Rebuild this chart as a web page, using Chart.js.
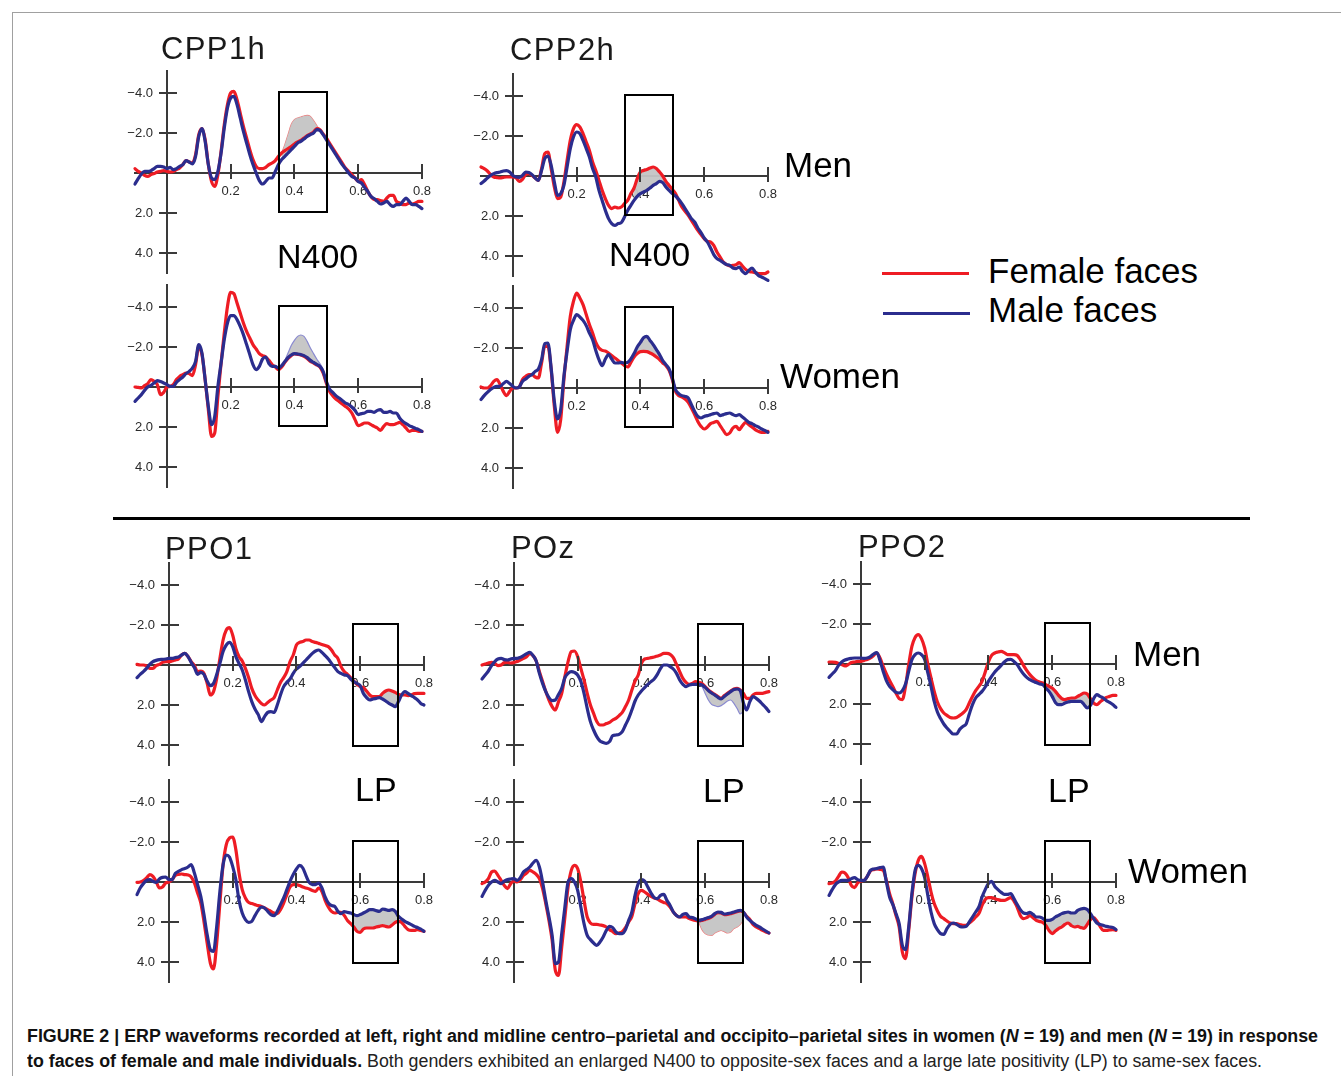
<!DOCTYPE html>
<html><head><meta charset="utf-8">
<script src="https://cdn.jsdelivr.net/npm/chart.js@4.4.1/dist/chart.umd.min.js"></script>
<style>
html,body{margin:0;padding:0;background:#fff;}
#fig{position:relative;width:1341px;height:1076px;overflow:hidden;font-family:"Liberation Sans",Arial,Helvetica,sans-serif;color:#111;}
canvas{position:absolute;}
.t{position:absolute;white-space:nowrap;line-height:1;}
.site{font-size:31px;letter-spacing:1.4px;color:#1a1a1a;}
.comp{font-size:34px;color:#000;}
.grp{font-size:35px;color:#000;}
.leg{font-size:35px;color:#000;}
.legline{position:absolute;height:3px;}
#sep{position:absolute;left:113px;top:517px;width:1137px;height:3px;background:#000;}
#frameTop{position:absolute;left:12px;top:12px;width:1329px;height:1px;background:#a0a0a0;}
#frameLeft{position:absolute;left:12px;top:12px;width:1px;height:1064px;background:#a0a0a0;}
#caption{position:absolute;left:27px;top:1024px;font-family:"Liberation Sans",Arial,sans-serif;font-size:18px;line-height:25px;color:#222;white-space:nowrap;}
#caption .ln{display:block;width:max-content;transform-origin:0 0;}
#caption b{font-weight:bold;color:#111;}
</style></head>
<body><div id="fig">
<div id="frameTop"></div><div id="frameLeft"></div>
<div id="sep"></div>

<canvas id="c1" width="352" height="244" style="left:90px;top:59px"></canvas>
<canvas id="c2" width="352" height="244" style="left:90px;top:273px"></canvas>
<canvas id="c3" width="352" height="244" style="left:436px;top:62px"></canvas>
<canvas id="c4" width="352" height="244" style="left:436px;top:274px"></canvas>
<canvas id="c5" width="352" height="244" style="left:92px;top:551px"></canvas>
<canvas id="c6" width="352" height="244" style="left:92px;top:768px"></canvas>
<canvas id="c7" width="352" height="244" style="left:437px;top:551px"></canvas>
<canvas id="c8" width="352" height="244" style="left:437px;top:768px"></canvas>
<canvas id="c9" width="352" height="244" style="left:784px;top:550px"></canvas>
<canvas id="c10" width="352" height="244" style="left:784px;top:768px"></canvas>

<div class="t site" style="left:161px;top:33px">CPP1h</div>
<div class="t site" style="left:510px;top:34px">CPP2h</div>
<div class="t site" style="left:165px;top:533px">PPO1</div>
<div class="t site" style="left:511px;top:532px">POz</div>
<div class="t site" style="left:858px;top:531px">PPO2</div>

<div class="t comp" style="left:277px;top:239px">N400</div>
<div class="t comp" style="left:609px;top:237px">N400</div>
<div class="t comp" style="left:355px;top:772px">LP</div>
<div class="t comp" style="left:703px;top:773px">LP</div>
<div class="t comp" style="left:1048px;top:773px">LP</div>

<div class="t grp" style="left:784px;top:147px">Men</div>
<div class="t grp" style="left:780px;top:358px">Women</div>
<div class="t grp" style="left:1133px;top:636px">Men</div>
<div class="t grp" style="left:1128px;top:853px">Women</div>

<div id="legend"></div>

<div id="caption"><span class="ln" id="cap1" data-w="1291"><b>FIGURE 2 | ERP waveforms recorded at left, right and midline centro–parietal and occipito–parietal sites in women (<i>N</i> = 19) and men (<i>N</i> = 19) in response</b></span><span class="ln" id="cap2" data-w="1235"><b>to faces of female and male individuals.</b> Both genders exhibited an enlarged N400 to opposite-sex faces and a large late positivity (LP) to same-sex faces.</span></div>
</div>
<script>
// ---------------- data ----------------
const times = [-0.10,-0.09,-0.08,-0.07,-0.06,-0.05,-0.04,-0.03,-0.02,-0.01,
0.00,0.01,0.02,0.03,0.04,0.05,0.06,0.07,0.08,0.09,
0.10,0.11,0.12,0.13,0.14,0.15,0.16,0.17,0.18,0.19,
0.20,0.21,0.22,0.23,0.24,0.25,0.26,0.27,0.28,0.29,
0.30,0.31,0.32,0.33,0.34,0.35,0.36,0.37,0.38,0.39,
0.40,0.41,0.42,0.43,0.44,0.45,0.46,0.47,0.48,0.49,
0.50,0.51,0.52,0.53,0.54,0.55,0.56,0.57,0.58,0.59,
0.60,0.61,0.62,0.63,0.64,0.65,0.66,0.67,0.68,0.69,
0.70,0.71,0.72,0.73,0.74,0.75,0.76,0.77,0.78,0.79,
0.80];
const xTickValues = [0.2, 0.4, 0.6, 0.8];
const xTickLabels = ['0.2', '0.4', '0.6', '0.8'];
const yTickValues = [-4, -2, 2, 4];
const yTickLabels = ['\u22124.0', '\u22122.0', '2.0', '4.0'];
const seriesNames = ['Female faces', 'Male faces'];
const seriesColors = ['#ee1c24', '#2b2d8e'];

const n400Box = {t: [0.352, 0.504], v: [-4.05, 1.95]};
const lpBox = {t: [0.578, 0.718], v: [-2.07, 4.02]};

// CPP1h - Men
const cpp1hMenFemale = [-0.22,-0.08,0,0.12,0.17,0.08,0.03,-0.05,-0.08,-0.12,
-0.08,-0.05,-0.08,-0.17,-0.25,-0.42,-0.62,-0.55,-0.5,-0.92,
-1.92,-2.22,-1.67,-0.42,0.42,0.67,0.08,-1.08,-2.42,-3.42,
-4.0,-4.08,-3.67,-3.0,-2.33,-1.75,-1.17,-0.67,-0.33,-0.22,
-0.22,-0.28,-0.42,-0.5,-0.62,-0.83,-1.0,-1.12,-1.22,-1.32,
-1.45,-1.55,-1.63,-1.75,-1.87,-1.95,-2.05,-2.22,-2.17,-1.95,
-1.75,-1.5,-1.25,-1.0,-0.75,-0.5,-0.25,-0.08,0.08,0.25,
0.42,0.33,0.58,0.92,1.17,1.33,1.33,1.38,1.42,1.25,
1.12,1.12,1.42,1.5,1.58,1.58,1.5,1.55,1.5,1.42,
1.42];
const cpp1hMenMale = [0.55,0.28,0.05,-0.08,-0.08,-0.12,-0.22,-0.33,-0.33,-0.3,
-0.22,-0.28,-0.17,-0.22,-0.33,-0.42,-0.62,-0.55,-0.45,-0.83,
-1.83,-2.22,-1.58,-0.42,0.25,0.33,-0.08,-1.0,-2.25,-3.25,
-3.75,-3.83,-3.42,-2.75,-2.08,-1.5,-0.92,-0.42,0,0.38,
0.55,0.42,0.25,0.25,-0.08,-0.42,-0.67,-0.83,-1.0,-1.17,
-1.33,-1.5,-1.58,-1.7,-1.83,-1.92,-2.0,-2.17,-2.12,-1.92,
-1.67,-1.42,-1.17,-0.92,-0.67,-0.42,-0.22,0,0.17,0.25,
0.42,0.5,0.72,0.92,1.17,1.28,1.42,1.55,1.5,1.42,
1.58,1.67,1.58,1.58,1.42,1.25,1.42,1.58,1.58,1.67,
1.78];
const cpp1hMenFemaleOutline = [-1.0,-1.42,-1.92,-2.42,-2.67,-2.75,-2.8,-2.85,-2.88,-2.83,-2.62,-2.37,-2.12]; // 0.36-0.48

// CPP1h - Women
const cpp1hWomenFemale = [0,0.02,0.05,-0.07,-0.17,-0.37,-0.28,-0.12,0.38,0.27,
0,-0.03,-0.12,-0.37,-0.53,-0.62,-0.7,-0.67,-0.57,-1.12,
-2.03,-1.62,-0.37,1.13,2.47,2.3,0.47,-1.2,-2.7,-4.03,
-4.73,-4.67,-4.2,-3.7,-3.2,-2.78,-2.45,-2.12,-1.9,-1.67,
-1.57,-1.5,-1.33,-1.12,-1.0,-0.87,-1.0,-1.23,-1.43,-1.57,
-1.65,-1.63,-1.6,-1.53,-1.43,-1.28,-1.2,-1.1,-1.0,-0.7,
-0.2,0.22,0.43,0.6,0.72,0.85,0.97,1.1,1.3,1.63,
1.93,1.88,1.8,1.8,1.88,1.97,2.05,2.17,1.97,1.83,
1.88,1.88,1.83,1.77,1.88,2.05,2.22,2.17,2.17,2.22,
2.22];
const cpp1hWomenMale = [0.72,0.55,0.38,0.17,0,-0.08,-0.2,-0.32,-0.27,-0.2,
-0.12,-0.03,-0.03,-0.23,-0.37,-0.5,-0.67,-0.78,-0.95,-1.28,
-2.12,-1.7,-0.37,0.97,1.88,1.47,-0.03,-1.2,-2.37,-3.2,
-3.57,-3.57,-3.37,-3.03,-2.62,-2.12,-1.62,-1.12,-0.87,-1.03,
-1.4,-1.5,-1.17,-1.03,-1.03,-0.95,-1.07,-1.27,-1.47,-1.6,
-1.67,-1.65,-1.62,-1.57,-1.47,-1.33,-1.23,-1.13,-1.03,-0.78,
-0.28,0.1,0.27,0.43,0.55,0.67,0.8,0.88,1.0,1.17,
1.38,1.33,1.3,1.22,1.22,1.27,1.17,1.13,1.27,1.27,
1.22,1.3,1.3,1.55,1.72,1.83,1.93,2.0,2.07,2.13,
2.22];
const cpp1hWomenMaleOutline = [-1.33,-1.7,-2.07,-2.33,-2.53,-2.6,-2.53,-2.28,-1.95,-1.67,-1.4,-1.17,-0.87,-0.37]; // 0.37-0.50

// CPP2h - Men
const cpp2hMenFemale = [-0.45,-0.37,-0.25,-0.07,0.05,0.08,0.1,0.07,0.05,0.05,
0.05,0.1,0.27,0.17,-0.07,-0.12,-0.03,0.1,0.22,-0.37,
-1.12,-1.2,-0.37,0.55,1.13,1.05,0.3,-0.78,-1.78,-2.37,
-2.57,-2.45,-2.12,-1.7,-1.28,-0.7,-0.28,0.22,0.72,1.13,
1.47,1.63,1.55,1.6,1.55,1.38,1.22,0.88,0.6,0.13,
-0.2,-0.28,-0.33,-0.4,-0.45,-0.37,-0.2,0,0.27,0.47,
0.67,0.88,1.22,1.55,1.77,1.97,2.22,2.47,2.72,2.93,
3.13,3.27,3.3,3.47,3.8,4.05,4.3,4.43,4.5,4.47,
4.43,4.33,4.5,4.67,4.77,4.8,4.83,4.88,4.88,4.88,
4.8];
const cpp2hMenMale = [0.38,0.25,0.1,-0.03,-0.12,-0.17,-0.2,-0.25,-0.27,-0.2,
-0.03,0.05,0.07,-0.03,-0.2,-0.17,-0.07,0.1,0.22,-0.28,
-0.87,-1.0,-0.53,0.3,0.97,0.88,0.47,-0.45,-1.37,-1.95,
-2.2,-2.12,-1.78,-1.37,-0.95,-0.37,0.05,0.72,1.22,1.72,
2.13,2.38,2.47,2.38,2.33,2.05,1.72,1.47,1.22,1.02,
0.88,0.8,0.72,0.6,0.47,0.38,0.27,0.33,0.55,0.72,
0.88,1.0,1.17,1.38,1.63,1.88,2.13,2.3,2.6,2.83,
3.1,3.3,3.6,3.93,4.13,4.22,4.33,4.43,4.47,4.6,
4.63,4.55,4.77,4.88,4.72,4.6,4.8,4.97,5.05,5.13,
5.22];

// CPP2h - Women
const cpp2hWomenFemale = [-0.05,0,0,-0.12,-0.33,-0.42,-0.17,0.17,0.38,0.17,
0,0,-0.05,-0.42,-0.58,-0.67,-0.67,-0.55,-0.5,-1.25,
-2.08,-2.08,-0.92,0.92,2.22,1.58,-0.42,-2.08,-3.58,-4.33,
-4.75,-4.5,-4.17,-3.67,-3.17,-2.75,-2.28,-2.0,-1.88,-1.85,
-1.75,-1.62,-1.5,-1.38,-1.25,-1.12,-1.05,-1.28,-1.55,-1.72,
-1.82,-1.83,-1.82,-1.75,-1.67,-1.55,-1.42,-1.25,-1.12,-0.88,
-0.42,0.17,0.38,0.45,0.55,0.72,1.0,1.33,1.67,1.92,
2.05,1.95,1.78,1.72,1.67,1.88,2.12,2.33,2.25,2.0,
1.92,2.08,1.88,1.72,1.83,1.95,2.08,2.17,2.22,2.22,
2.17];
const cpp2hWomenMale = [0.58,0.38,0.22,0.08,-0.03,-0.08,-0.08,-0.22,-0.33,-0.22,
-0.08,0,-0.05,-0.33,-0.45,-0.58,-0.67,-0.83,-0.95,-1.42,
-2.22,-2.25,-1.0,0.67,1.55,1.08,-0.58,-1.83,-2.92,-3.38,
-3.67,-3.55,-3.38,-3.12,-2.75,-2.42,-1.88,-1.42,-1.12,-1.45,
-1.67,-1.45,-1.25,-1.25,-1.28,-1.25,-1.28,-1.45,-1.72,-2.05,
-2.28,-2.52,-2.58,-2.38,-2.17,-1.92,-1.67,-1.37,-1.17,-0.95,
-0.5,0.08,0.28,0.38,0.42,0.5,0.83,1.17,1.42,1.5,
1.42,1.38,1.33,1.28,1.25,1.38,1.33,1.28,1.25,1.33,
1.38,1.33,1.45,1.58,1.72,1.78,1.88,1.95,2.05,2.12,
2.22];

// PPO1 - Men
const ppo1MenFemale = [-0.03,0,0,0.05,0.17,0.17,0.03,-0.03,-0.13,-0.17,
-0.17,-0.2,-0.25,-0.3,-0.5,-0.58,-0.42,-0.17,0.03,0.33,
0.3,0.42,0.92,1.5,1.33,0.67,-0.33,-1.25,-1.75,-1.87,
-1.5,-0.83,-0.42,-0.2,0.17,0.63,1.17,1.53,1.75,1.92,
2.0,1.87,1.75,1.63,1.25,0.87,0.63,0.33,-0.17,-0.5,
-1.0,-1.13,-1.17,-1.25,-1.25,-1.17,-1.13,-1.08,-1.03,-0.97,
-0.92,-0.75,-0.5,-0.33,0.08,0.33,0.47,0.63,0.8,0.97,
1.08,1.13,1.3,1.5,1.58,1.58,1.58,1.42,1.3,1.25,
1.3,1.37,1.47,1.5,1.5,1.53,1.5,1.43,1.42,1.42,
1.42];
const ppo1MenMale = [0.63,0.47,0.33,0.17,-0.03,-0.17,-0.23,-0.27,-0.28,-0.3,
-0.33,-0.33,-0.37,-0.4,-0.5,-0.58,-0.42,-0.13,0.13,0.47,
0.37,0.47,0.8,1.03,0.92,0.47,-0.08,-0.67,-1.0,-1.13,
-0.92,-0.42,-0.08,0.25,0.75,1.33,1.83,2.2,2.47,2.83,
2.58,2.37,2.33,2.37,2.0,1.5,1.08,0.87,0.7,0.42,
0.2,0.08,-0.08,-0.25,-0.42,-0.58,-0.7,-0.75,-0.63,-0.47,
-0.3,-0.08,0.13,0.33,0.42,0.5,0.53,0.7,0.83,0.92,
1.03,1.42,1.63,1.75,1.7,1.67,1.63,1.7,1.8,1.92,
2.0,2.08,1.83,1.5,1.33,1.42,1.53,1.63,1.75,1.92,
2.0];

// PPO1 - Women
const ppo1WomenFemale = [0.02,0,-0.07,-0.2,-0.37,-0.28,-0.03,0.3,0.25,0.05,
0,-0.12,-0.32,-0.38,-0.4,-0.37,-0.35,-0.25,0.05,0.55,
1.05,1.97,3.05,4.05,4.35,3.05,1.05,-0.87,-1.87,-2.2,
-2.25,-1.62,-0.45,0.38,0.8,1.02,1.08,1.13,1.18,1.22,
1.3,1.38,1.47,1.55,1.58,1.38,1.05,0.63,0.25,0.13,
0.13,0.18,0.25,0.3,0.35,0.42,0.47,0.3,0.47,0.92,
1.25,1.47,1.55,1.52,1.52,1.68,1.92,2.08,2.25,2.47,
2.52,2.35,2.3,2.3,2.3,2.25,2.22,2.18,2.22,2.25,
2.15,2.02,1.97,2.02,2.22,2.38,2.42,2.42,2.38,2.42,
2.47];
const ppo1WomenMale = [0.63,0.3,0.08,-0.08,-0.12,-0.03,0.02,-0.15,-0.23,-0.25,
-0.12,-0.12,-0.42,-0.53,-0.62,-0.67,-0.75,-0.87,-0.45,0.13,
0.72,1.63,2.63,3.38,3.47,2.22,0.47,-0.87,-1.35,-1.25,
-0.78,-0.12,0.92,1.55,1.88,2.02,1.97,1.68,1.42,1.25,
1.3,1.47,1.63,1.68,1.47,1.13,0.8,0.38,-0.03,-0.37,
-0.65,-0.83,-0.7,-0.32,0.02,0.13,0.13,0.05,0.3,0.75,
1.05,1.18,1.22,1.47,1.58,1.48,1.52,1.55,1.63,1.68,
1.63,1.55,1.47,1.38,1.38,1.43,1.47,1.35,1.38,1.42,
1.38,1.47,1.72,1.85,1.97,2.05,2.13,2.22,2.28,2.35,
2.47];

// POz - Men
const pozMenFemale = [0,-0.05,-0.1,-0.13,-0.08,0.03,0,-0.12,-0.13,-0.1,
-0.12,-0.17,-0.25,-0.33,-0.42,-0.57,-0.47,-0.2,0.33,0.83,
1.33,1.75,2.08,2.25,1.83,1.42,0.58,-0.17,-0.67,-0.7,
-0.42,0.17,0.75,1.42,2.0,2.42,2.83,3.0,3.0,2.93,
2.87,2.75,2.67,2.53,2.37,2.08,1.75,1.25,0.8,0.5,
-0.08,-0.3,-0.33,-0.37,-0.4,-0.45,-0.5,-0.58,-0.58,-0.53,
-0.37,-0.03,0.33,0.67,0.87,0.97,0.92,0.83,0.87,0.93,
1.08,1.25,1.37,1.47,1.58,1.67,1.53,1.42,1.3,1.2,
1.17,1.25,1.42,1.67,1.67,1.5,1.42,1.42,1.42,1.37,
1.33];
const pozMenMale = [0.7,0.5,0.3,0.03,-0.17,-0.3,-0.33,-0.27,-0.25,-0.3,
-0.33,-0.33,-0.38,-0.47,-0.57,-0.63,-0.47,-0.2,0.42,0.92,
1.33,1.63,1.78,1.75,1.47,1.17,0.63,0.42,0.33,0.37,
0.5,0.83,1.42,2.17,2.83,3.25,3.58,3.8,3.87,3.92,
3.83,3.53,3.5,3.47,3.33,3.0,2.67,2.25,1.8,1.5,
1.3,1.13,0.97,0.83,0.7,0.47,0.17,0,0,0.08,
0.2,0.42,0.75,0.97,1.08,1.0,0.97,0.97,0.97,1.0,
1.12,1.28,1.4,1.5,1.62,1.7,1.57,1.45,1.33,1.23,
1.2,1.28,1.9,2.25,1.83,1.58,1.67,1.8,1.97,2.13,
2.33];
const pozMenMaleOutline = [0.97,1.08,1.42,1.75,1.97,2.03,2.08,2.03,1.92,1.8,1.75,1.92,2.17,2.45,2.3]; // 0.58-0.72

// POz - Women
const pozWomenFemale = [0.08,0,-0.17,-0.5,-0.55,-0.33,-0.08,0.17,0.33,0.08,
-0.05,0,-0.12,-0.33,-0.45,-0.58,-0.5,-0.38,-0.17,0.33,
1.08,1.92,2.92,4.42,4.67,3.25,1.75,0.25,-0.58,-0.83,
-0.67,0,0.92,1.75,2.05,2.12,2.12,2.15,2.18,2.25,
2.38,2.48,2.58,2.55,2.48,2.28,2.0,1.72,1.08,0.58,
0.42,0.5,0.62,0.72,0.8,0.85,0.95,1.02,1.08,1.25,
1.5,1.67,1.75,1.75,1.75,1.83,1.88,1.92,1.95,1.92,
1.87,1.82,1.75,1.62,1.53,1.55,1.63,1.62,1.58,1.53,
1.48,1.45,1.52,1.72,1.88,2.12,2.25,2.33,2.42,2.5,
2.55];
const pozWomenMale = [0.72,0.42,0.17,0,-0.08,0,0.08,-0.05,-0.12,-0.15,
-0.17,-0.08,-0.22,-0.5,-0.62,-0.75,-0.95,-1.08,-0.75,0,
0.92,1.75,2.67,4.08,4.0,2.58,1.25,0,-0.17,0,
0.42,1.25,2.08,2.67,2.88,3.05,3.17,3.0,2.75,2.42,
2.22,2.28,2.5,2.58,2.58,2.38,1.92,1.5,0.67,0.08,
-0.12,-0.05,0.25,0.55,0.78,0.83,0.67,0.62,0.92,1.17,
1.5,1.67,1.75,1.62,1.58,1.75,1.78,1.85,1.92,1.88,
1.83,1.78,1.72,1.58,1.5,1.52,1.6,1.58,1.55,1.5,
1.45,1.42,1.5,1.75,1.92,2.05,2.17,2.25,2.35,2.45,
2.55];
const pozWomenFemaleOutline = [2.0,2.38,2.58,2.65,2.67,2.55,2.47,2.42,2.48,2.55,2.5,2.33,2.25,2.12,1.88]; // 0.58-0.72

// PPO2 - Men
const ppo2MenFemale = [-0.1,-0.1,-0.08,-0.03,0.03,0.1,0.03,-0.07,-0.1,-0.13,
-0.13,-0.18,-0.23,-0.3,-0.43,-0.55,-0.3,0.12,0.5,0.83,
1.12,1.45,1.73,1.78,1.12,0.03,-0.88,-1.33,-1.47,-1.27,
-0.8,0,0.7,1.37,1.9,2.23,2.45,2.57,2.67,2.7,
2.67,2.57,2.45,2.28,1.95,1.62,1.33,1.12,0.87,0.4,
-0.1,-0.43,-0.55,-0.6,-0.63,-0.57,-0.47,-0.47,-0.47,-0.43,
-0.22,0.07,0.32,0.53,0.7,0.83,0.9,0.95,1.03,1.12,
1.2,1.37,1.57,1.73,1.78,1.73,1.7,1.7,1.62,1.53,
1.45,1.5,1.73,1.95,2.03,1.9,1.77,1.67,1.62,1.57,
1.57];
const ppo2MenMale = [0.67,0.5,0.33,0.07,-0.1,-0.2,-0.25,-0.28,-0.3,-0.3,
-0.3,-0.28,-0.3,-0.37,-0.5,-0.57,-0.17,0.37,0.83,1.12,
1.28,1.42,1.45,1.33,1.0,0.37,-0.22,-0.47,-0.55,-0.47,
-0.22,0.45,1.12,1.87,2.4,2.73,3.0,3.2,3.37,3.5,
3.5,3.27,3.12,3.0,2.5,2.03,1.7,1.53,1.37,1.15,
0.87,0.62,0.4,0.23,0.07,-0.1,-0.22,-0.23,-0.13,0.03,
0.28,0.5,0.67,0.78,0.87,0.93,1.0,1.03,1.2,1.37,
1.62,1.92,2.03,2.03,1.95,1.9,1.87,1.87,1.87,1.87,
2.03,2.2,2.07,1.73,1.53,1.62,1.7,1.83,1.92,2.03,
2.17];

// PPO2 - Women
const ppo2WomenFemale = [0.08,0.05,-0.05,-0.28,-0.5,-0.45,-0.22,0.17,0.28,0.05,
-0.05,-0.08,-0.28,-0.55,-0.62,-0.65,-0.63,-0.58,-0.08,0.58,
1.08,1.67,2.25,3.5,3.83,2.42,0.75,-0.42,-1.08,-1.28,
-0.92,-0.25,0.5,1.08,1.45,1.72,1.83,1.95,2.05,2.08,
2.08,2.13,2.17,2.17,2.05,1.92,1.75,1.58,1.17,0.87,
0.78,0.78,0.83,0.88,0.92,0.92,0.85,0.78,0.95,1.25,
1.67,1.83,1.78,1.68,1.78,1.92,1.97,2.02,2.17,2.42,
2.58,2.45,2.33,2.25,2.12,2.05,2.18,2.25,2.22,2.28,
2.32,2.12,1.88,1.78,1.95,2.22,2.42,2.42,2.4,2.38,
2.42];
const ppo2WomenMale = [0.67,0.38,0.13,0,-0.08,-0.08,-0.08,-0.17,-0.22,-0.12,
-0.08,-0.08,-0.28,-0.58,-0.65,-0.67,-0.72,-0.75,0,0.75,
1.12,1.58,2.08,3.17,3.38,2.25,0.58,-0.58,-0.83,-0.67,
-0.22,0.67,1.5,2.08,2.38,2.58,2.62,2.33,2.12,2.05,
2.12,2.22,2.25,2.22,2.0,1.75,1.5,1.25,0.75,0.38,
0.08,-0.03,0.22,0.38,0.52,0.62,0.62,0.58,0.83,1.12,
1.38,1.55,1.58,1.52,1.62,1.75,1.75,1.82,1.92,1.92,
1.87,1.75,1.67,1.58,1.53,1.5,1.55,1.55,1.42,1.35,
1.32,1.38,1.58,1.83,2.05,2.12,2.17,2.22,2.25,2.27,
2.38];

// ---------------- panels ----------------
const panels = [
  {id: 'c1', female: cpp1hMenFemale, male: cpp1hMenMale, box: n400Box, shade: {from: 0.36, to: 0.48, femaleOutline: cpp1hMenFemaleOutline}},
  {id: 'c2', female: cpp1hWomenFemale, male: cpp1hWomenMale, box: n400Box, shade: {from: 0.37, to: 0.50, maleOutline: cpp1hWomenMaleOutline}},
  {id: 'c3', female: cpp2hMenFemale, male: cpp2hMenMale, box: n400Box, shade: {from: 0.38, to: 0.49}},
  {id: 'c4', female: cpp2hWomenFemale, male: cpp2hWomenMale, box: n400Box, shade: {from: 0.38, to: 0.46}},
  {id: 'c5', female: ppo1MenFemale, male: ppo1MenMale, box: lpBox, shade: {from: 0.58, to: 0.72}},
  {id: 'c6', female: ppo1WomenFemale, male: ppo1WomenMale, box: lpBox, shade: {from: 0.58, to: 0.72}},
  {id: 'c7', female: pozMenFemale, male: pozMenMale, box: lpBox, shade: {from: 0.58, to: 0.72, maleOutline: pozMenMaleOutline}},
  {id: 'c8', female: pozWomenFemale, male: pozWomenMale, box: lpBox, shade: {from: 0.58, to: 0.72, femaleOutline: pozWomenFemaleOutline}},
  {id: 'c9', female: ppo2MenFemale, male: ppo2MenMale, box: lpBox, shade: {from: 0.58, to: 0.72}},
  {id: 'c10', female: ppo2WomenFemale, male: ppo2WomenMale, box: lpBox, shade: {from: 0.58, to: 0.72}}
];

const AXIS_COLOR = '#3a3a3a';
const LABEL_COLOR = '#2a2a2a';
const FONT = '"Liberation Sans", Arial, sans-serif';

const decorPlugin = {
  id: 'decor',
  afterDatasetsDraw(chart, args, opts) {
    const ctx = chart.ctx, xs = chart.scales.x, ys = chart.scales.y;
    const x0 = Math.round(xs.getPixelForValue(0)), y0 = Math.round(ys.getPixelForValue(0));
    ctx.save();
    ctx.strokeStyle = AXIS_COLOR; ctx.lineWidth = 2;
    ctx.beginPath();
    ys.ticks.forEach(t => { const py = Math.round(ys.getPixelForValue(t.value)); ctx.moveTo(x0 - 8, py); ctx.lineTo(x0 + 10, py); });
    xs.ticks.forEach(t => { const px = Math.round(xs.getPixelForValue(t.value)); ctx.moveTo(px, y0 - 9); ctx.lineTo(px, y0 + 6); });
    ctx.stroke();
    ctx.fillStyle = LABEL_COLOR; ctx.font = '13px ' + FONT; ctx.textAlign = 'right'; ctx.textBaseline = 'middle';
    ys.ticks.forEach((t, i) => ctx.fillText(yTickLabels[i], x0 - 14, ys.getPixelForValue(t.value)));
    const b = opts.box;
    const l = xs.getPixelForValue(b.t[0]), r = xs.getPixelForValue(b.t[1]);
    const tp = ys.getPixelForValue(b.v[0]), bt = ys.getPixelForValue(b.v[1]);
    ctx.strokeStyle = '#000'; ctx.lineWidth = 2;
    ctx.strokeRect(Math.round(l), Math.round(tp), Math.round(r - l), Math.round(bt - tp));
    ctx.restore();
  }
};

const pts = (vals, start) => vals.map((v, i) => ({x: times[start + i], y: v}));

panels.forEach(p => {
  const i0 = times.indexOf(p.shade.from), i1 = times.indexOf(p.shade.to);
  const fEdge = p.shade.femaleOutline || p.female.slice(i0, i1 + 1);
  const mEdge = p.shade.maleOutline || p.male.slice(i0, i1 + 1);
  const datasets = [
    {label: seriesNames[0], data: pts(p.female, 0), borderColor: seriesColors[0], borderWidth: 3.2, order: 1, clip: false},
    {label: seriesNames[1], data: pts(p.male, 0), borderColor: seriesColors[1], borderWidth: 3.2, order: 0, clip: false},
    {label: 'female-window', data: pts(fEdge, i0), borderColor: p.shade.femaleOutline ? '#f07a7a' : 'rgba(0,0,0,0)', borderWidth: p.shade.femaleOutline ? 1.2 : 0, order: 3, fill: false},
    {label: 'male-window', data: pts(mEdge, i0), borderColor: p.shade.maleOutline ? '#8a8ad0' : 'rgba(0,0,0,0)', borderWidth: p.shade.maleOutline ? 1.2 : 0, order: 2, fill: '-1', backgroundColor: 'rgba(196,196,196,0.95)'}
  ];
  new Chart(document.getElementById(p.id), {
    type: 'line',
    data: {datasets},
    options: {
      responsive: false, animation: false, events: [],
      layout: {padding: {left: 45, top: 12, right: 12, bottom: 30}},
      elements: {point: {radius: 0}, line: {tension: 0.4, cubicInterpolationMode: 'monotone', borderJoinStyle: 'round', borderCapStyle: 'round'}},
      plugins: {legend: {display: false}, tooltip: {enabled: false}, filler: {propagate: false}, decor: {box: p.box}},
      scales: {
        x: {
          type: 'linear', min: -0.1, max: 0.8, position: {y: 0},
          afterBuildTicks: s => { s.ticks = xTickValues.map(v => ({value: v})); },
          grid: {display: true, drawOnChartArea: false, drawTicks: false},
          border: {display: true, color: AXIS_COLOR, width: 2},
          ticks: {autoSkip: false, maxRotation: 0, padding: 11, color: LABEL_COLOR, font: {family: FONT, size: 13}, callback: (v, i) => xTickLabels[i]}
        },
        y: {
          type: 'linear', min: -5.1, max: 5.0, reverse: true, position: {x: 0},
          afterBuildTicks: s => { s.ticks = yTickValues.map(v => ({value: v})); },
          grid: {display: true, drawOnChartArea: false, drawTicks: false},
          border: {display: true, color: AXIS_COLOR, width: 2},
          ticks: {display: false}
        }
      }
    },
    plugins: [decorPlugin]
  });
});

// legend
const legendPos = [{lx: 882, ly: 272, tx: 988, ty: 253}, {lx: 883, ly: 312, tx: 988, ty: 292}];
const legend = document.getElementById('legend');
seriesNames.forEach((name, i) => {
  const line = document.createElement('div');
  line.className = 'legline';
  line.style.cssText = `left:${legendPos[i].lx}px;top:${legendPos[i].ly}px;width:87px;background:${seriesColors[i]}`;
  const txt = document.createElement('div');
  txt.className = 't leg';
  txt.style.cssText = `left:${legendPos[i].tx}px;top:${legendPos[i].ty}px`;
  txt.textContent = name;
  legend.appendChild(line); legend.appendChild(txt);
});

// fit caption lines to the reference widths
document.querySelectorAll('#caption .ln').forEach(el => {
  const w = el.getBoundingClientRect().width;
  const target = +el.dataset.w;
  if (w > 0) el.style.transform = `scaleX(${target / w})`;
});
</script>
</body></html>
